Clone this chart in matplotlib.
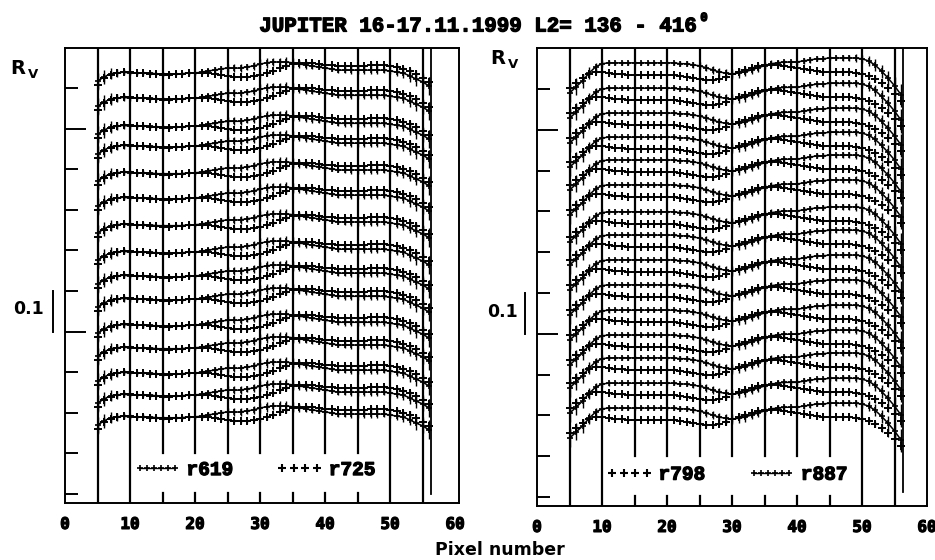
import numpy as np
import matplotlib
matplotlib.use("Agg")
import matplotlib.pyplot as plt
from matplotlib.lines import Line2D
from matplotlib.legend_handler import HandlerLine2D
import matplotlib.transforms as mtransforms
import matplotlib.patheffects as pe

# ---------------- data ----------------
pixels = list(range(5, 57))  # pixel numbers 5..56

# profile levels (R_V offsets, one per scan line), top to bottom
left_levels = [1.037, 0.975, 0.906, 0.857, 0.791, 0.729, 0.663, 0.596,
               0.537, 0.480, 0.416, 0.360, 0.298, 0.244, 0.190]
right_levels = [1.064, 1.002, 0.941, 0.882, 0.826, 0.765, 0.699, 0.642,
                0.581, 0.520, 0.458, 0.397, 0.341, 0.279, 0.218]

# profile shapes relative to level
left_r619 = [-0.020, -0.010, -0.002, 0.000, 0.002, 0.000, 0.000, 0.000, 0.000, -0.002,
             -0.002, -0.002, -0.002, -0.002, 0.000, 0.000, 0.002, 0.005, 0.007, 0.010,
             0.012, 0.012, 0.012, 0.015, 0.017, 0.022, 0.025, 0.027, 0.027, 0.027,
             0.025, 0.022, 0.020, 0.017, 0.015, 0.012, 0.010, 0.007, 0.007, 0.007,
             0.007, 0.007, 0.007, 0.007, 0.007, 0.005, 0.002, 0.000, -0.007, -0.015,
             -0.022, -0.032]
left_r725 = [-0.030, -0.012, -0.005, 0.000, 0.002, 0.002, 0.000, 0.000, -0.002, -0.002,
             -0.005, -0.005, -0.002, -0.002, 0.000, 0.000, 0.000, 0.000, -0.002, -0.005,
             -0.007, -0.010, -0.010, -0.010, -0.007, -0.005, 0.000, 0.005, 0.012, 0.017,
             0.022, 0.025, 0.025, 0.025, 0.022, 0.020, 0.020, 0.017, 0.017, 0.017,
             0.017, 0.017, 0.020, 0.020, 0.020, 0.017, 0.015, 0.010, 0.005, -0.002,
             -0.012, -0.022]
right_r887 = [-0.074, -0.059, -0.044, -0.025, -0.010, -0.002, 0.000, 0.000, 0.000, 0.000,
              0.000, 0.000, 0.000, 0.000, 0.000, 0.000, 0.000, -0.002, -0.002, -0.005,
              -0.007, -0.012, -0.017, -0.022, -0.025, -0.027, -0.025, -0.022, -0.017, -0.012,
              -0.007, -0.002, 0.000, 0.002, 0.002, 0.002, 0.005, 0.007, 0.010, 0.010,
              0.012, 0.012, 0.012, 0.012, 0.012, 0.010, 0.005, -0.005, -0.020, -0.037,
              -0.056, -0.078]
right_r798 = [-0.061, -0.049, -0.037, -0.027, -0.022, -0.022, -0.025, -0.027, -0.027, -0.029,
              -0.029, -0.029, -0.029, -0.029, -0.029, -0.029, -0.029, -0.032, -0.034, -0.037,
              -0.039, -0.042, -0.042, -0.039, -0.034, -0.027, -0.022, -0.017, -0.012, -0.007,
              -0.005, -0.005, -0.005, -0.007, -0.010, -0.012, -0.015, -0.017, -0.020, -0.022,
              -0.022, -0.022, -0.022, -0.022, -0.025, -0.027, -0.032, -0.039, -0.049, -0.061,
              -0.076, -0.093]

# error bar half-lengths
left_err = [0.020, 0.018, 0.014, 0.010, 0.008, 0.006, 0.005, 0.006, 0.004, 0.004,
            0.005, 0.004, 0.004, 0.004, 0.004, 0.005, 0.005, 0.006, 0.007, 0.008,
            0.010, 0.010, 0.009, 0.008, 0.010, 0.012, 0.012, 0.010, 0.011, 0.012,
            0.012, 0.010, 0.009, 0.008, 0.006, 0.005, 0.005, 0.006, 0.008, 0.009,
            0.010, 0.010, 0.010, 0.009, 0.008, 0.008, 0.010, 0.012, 0.014, 0.016,
            0.018, 0.022]
right_err = [0.022, 0.020, 0.018, 0.014, 0.010, 0.008, 0.006, 0.005, 0.005, 0.004,
             0.004, 0.004, 0.005, 0.004, 0.004, 0.005, 0.005, 0.006, 0.006, 0.007,
             0.008, 0.009, 0.010, 0.010, 0.011, 0.012, 0.012, 0.011, 0.010, 0.010,
             0.009, 0.008, 0.007, 0.006, 0.006, 0.006, 0.007, 0.007, 0.006, 0.006,
             0.006, 0.006, 0.007, 0.008, 0.009, 0.010, 0.012, 0.014, 0.016, 0.018,
             0.022, 0.026]

x_ticks = [0, 10, 20, 30, 40, 50, 60]
y_ticks = [0.0, 0.1, 0.2, 0.3, 0.5, 0.6, 0.7, 0.8, 1.0]
y_long_ticks = [0.4, 0.9]
grid_full = [5, 10, 50, 55]
grid_broken = [15, 20, 25, 30, 35, 40, 45]

W, H = 935, 560
fig = plt.figure(figsize=(W / 100, H / 100), dpi=100)

bold_fx = [pe.withStroke(linewidth=0.9, foreground="k")]
tick_font = dict(family="DejaVu Sans Mono", weight="bold", size=11.5)
leg_font = dict(family="Liberation Mono", weight="bold", size=14)


def px(x, y):
    return x / W, 1 - y / H


def make_panel(rect, xmax, ymin, ymax, levels, tight_shape, spaced_shape, err,
               tight_label, spaced_label, spaced_first, legend_xy, end_line, end_ymin):
    ax = fig.add_axes(rect)
    ax.set_xlim(0, xmax)
    ax.set_ylim(ymin, ymax)
    for s in ax.spines.values():
        s.set_linewidth(1.4)
    # vertical grid lines
    for g in grid_full:
        ax.axvline(g, color="k", lw=1.6, zorder=1)
    for g in grid_broken:
        ax.axvline(g, ymin=0.11, ymax=1, color="k", lw=1.6, zorder=1)
        ax.axvline(g, ymin=0, ymax=0.022, color="k", lw=1.6, zorder=1)
    ax.axvline(end_line, ymin=end_ymin, ymax=1, color="k", lw=1.3, zorder=1)

    x = np.array(pixels)
    for lvl in levels:
        yt = lvl + np.array(tight_shape)
        ys = lvl + np.array(spaced_shape)
        ax.errorbar(x, yt, yerr=err, fmt="-", marker="+", color="k", lw=1.1,
                    ms=5, mew=1.2, elinewidth=1.0, capsize=0, zorder=3)
        ax.errorbar(x, ys, yerr=np.array(err) * 0.6, fmt="none", ecolor="k",
                    elinewidth=0.9, capsize=0, zorder=3)
        ax.plot(x, ys, ls="none", marker="+", color="k", ms=5.5, mew=1.4, zorder=3)

    # axis ticks
    ax.set_xticks(x_ticks)
    ax.set_xticklabels([str(t) for t in x_ticks], fontdict=tick_font)
    for lab in ax.get_xticklabels():
        lab.set_path_effects(bold_fx)
    ax.tick_params(axis="x", length=0, pad=10)
    ax.set_yticks(y_long_ticks)
    ax.set_yticklabels([])
    ax.set_yticks(y_ticks, minor=True)
    ax.tick_params(axis="y", which="major", direction="in", length=15, width=1.4)
    ax.tick_params(axis="y", which="minor", direction="in", length=9.5, width=1.4)

    # scale bar "0.1"
    tr = mtransforms.blended_transform_factory(ax.transAxes, ax.transData)
    ax.plot([-0.03, -0.03], [0.4, 0.5], color="k", lw=1.4, transform=tr, clip_on=False)

    # legend
    h_t = Line2D([], [], color="k", lw=1.0, marker="+", ms=5, mew=1.2)
    h_s = Line2D([], [], ls="none", color="k", marker="+", ms=6, mew=1.5)
    if spaced_first:
        handles, labels = [h_s, h_t], [spaced_label, tight_label]
    else:
        handles, labels = [h_t, h_s], [tight_label, spaced_label]
    leg = ax.legend(handles, labels, loc="center", bbox_to_anchor=legend_xy, ncol=2,
                    frameon=False, prop=leg_font, handlelength=2.4, handletextpad=0.3,
                    columnspacing=2.2,
                    handler_map={h_t: HandlerLine2D(numpoints=6),
                                 h_s: HandlerLine2D(numpoints=4)})
    for t in leg.get_texts():
        t.set_path_effects(bold_fx)
    return ax


axL = make_panel([65 / W, 57 / H, 394 / W, 455 / H], 60.6, -0.022, 1.0985,
                 left_levels, left_r619, left_r725, left_err,
                 "r619", "r725", False, (0.482, 0.072), 56.3, 0.02)
axR = make_panel([537 / W, 54 / H, 390 / W, 458 / H], 60.0, -0.022, 1.1005,
                 right_levels, right_r887, right_r798, right_err,
                 "r887", "r798", True, (0.487, 0.068), 56.3, 0.03)

# title
fig.text(*px(478, 26), "JUPITER 16-17.11.1999 L2= 136 - 416",
         ha="center", va="center", family="Liberation Mono", weight="bold", size=15,
         path_effects=bold_fx)
fig.text(*px(704, 18), "0", ha="center", va="center",
         family="Liberation Mono", weight="bold", size=9, path_effects=bold_fx)

# R_V labels
for (rx, ry) in [(10, 69), (490, 59)]:
    fig.text(*px(rx, ry), "R", ha="left", va="center", family="DejaVu Sans",
             weight="bold", size=14)
    fig.text(*px(rx + 18, ry + 5), "V", ha="left", va="center", family="DejaVu Sans",
             weight="bold", size=9.5)

# 0.1 labels
fig.text(*px(29, 309), "0.1", ha="center", va="center", family="DejaVu Sans",
         weight="bold", size=12.5)
fig.text(*px(502, 312), "0.1", ha="center", va="center", family="DejaVu Sans",
         weight="bold", size=12.5)

# x label
fig.text(*px(500, 550), "Pixel number", ha="center", va="center",
         family="DejaVu Sans", weight="bold", size=12.5)

fig.savefig("out.png", dpi=100)
